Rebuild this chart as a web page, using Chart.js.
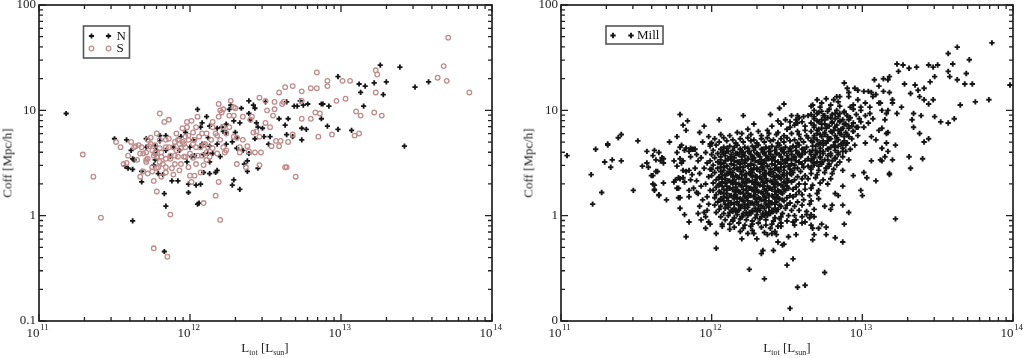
<!DOCTYPE html>
<html>
<head>
<meta charset="utf-8">
<script src="https://cdn.jsdelivr.net/npm/chart.js@4.4.0/dist/chart.umd.min.js"></script>
<style>
body { margin: 0; background: #fff; }
#wrap { position: relative; width: 1025px; height: 358px; overflow: hidden; }
canvas { position: absolute; top: 0; }
.title { position: absolute; font-family: "Liberation Serif", serif; font-size: 13px; color: #222; white-space: nowrap; line-height: 15px; }
.title .sb { font-size: 8px; position: relative; top: 3px; }
.ytitle { transform: translate(-50%, -50%) rotate(-90deg); }
.xtitle { transform: translateX(-50%); }
</style>
</head>
<body>
<div id="wrap">
  <canvas id="left" width="512" height="358" style="left:0"></canvas>
  <canvas id="right" width="513" height="358" style="left:512px"></canvas>
  <div class="title ytitle" style="left:7px;top:163px">Coff [Mpc/h]</div>
  <div class="title xtitle" style="left:265px;top:340px">L<span class="sb">tot</span> [L<span class="sb">sun</span>]</div>
  <div class="title ytitle" style="left:528px;top:163px">Coff [Mpc/h]</div>
  <div class="title xtitle" style="left:787px;top:340px">L<span class="sb">tot</span> [L<span class="sb">sun</span>]</div>
</div>
<script>
// axis ranges and tick labels
const xTicks = [1e11, 1e12, 1e13, 1e14];
const xTickExp = ['11', '12', '13', '14'];
const yTicks = [0.1, 1, 10, 100];
const yTickLabelsLeft = ['0.1', '1', '10', '100'];
const yTickLabelsRight = ['0', '1', '10', '100'];
const minorSteps = [2, 3, 4, 5, 6, 7, 8, 9];

// points are [log10 Ltot, log10 Coff]
const nPoints = [[11.18,0.97],[11.50,0.73],[11.58,0.72],[11.61,0.62],[11.62,0.54],[11.63,0.53],[11.57,0.47],[11.59,0.45],[11.62,0.44],[11.68,0.42],[11.68,0.32],[11.62,-0.05],[11.71,0.73],[11.71,0.65],[11.77,0.66],[11.78,0.62],[11.77,0.58],[11.80,0.76],[11.84,0.76],[11.80,0.71],[11.76,0.48],[11.79,0.40],[11.82,0.39],[11.83,0.21],[11.84,0.09],[11.83,-0.34],[11.88,0.33],[11.92,0.33],[11.99,0.30],[11.99,0.22],[12.04,0.29],[12.07,0.30],[12.06,0.12],[12.05,0.11],[12.05,1.01],[12.11,0.94],[12.08,0.88],[11.98,0.51],[12.01,0.56],[12.03,0.57],[12.07,0.65],[12.08,0.68],[12.12,0.59],[12.13,0.51],[12.17,0.41],[12.20,0.56],[12.22,0.80],[12.21,0.84],[12.26,1.01],[12.27,1.05],[12.24,0.68],[12.28,0.70],[12.28,0.29],[12.29,0.34],[12.33,0.25],[12.30,0.79],[12.31,0.74],[12.35,0.62],[12.38,0.52],[12.38,0.42],[12.39,0.97],[12.40,0.91],[12.42,1.05],[12.43,1.02],[12.39,1.09],[12.48,0.83],[12.49,0.75],[12.53,0.75],[12.63,0.86],[12.65,0.92],[12.59,0.92],[12.64,0.77],[12.68,0.75],[12.74,0.72],[12.74,0.83],[12.77,0.82],[12.69,1.04],[12.71,1.04],[12.75,1.05],[12.78,1.06],[12.87,1.06],[12.88,1.06],[12.92,1.04],[12.87,0.92],[12.91,0.85],[12.98,1.32],[12.98,0.82],[13.07,0.81],[13.13,1.17],[13.15,1.04],[13.12,1.25],[13.16,1.23],[13.22,1.26],[13.26,1.43],[13.28,1.15],[13.30,1.27],[13.39,1.41],[13.42,0.66],[13.49,1.22],[13.58,1.27],[12.64,1.08],[12.73,1.09],[12.43,0.73],[12.52,0.68],[12.45,0.84],[12.44,0.88],[12.50,1.08],[12.45,0.45],[12.34,1.02],[12.33,0.88],[12.31,0.64],[12.18,0.83],[12.15,0.59],[12.13,0.40],[12.09,0.41],[12.09,0.58],[12.13,0.66],[12.12,0.74],[12.07,0.84],[12.13,0.85],[11.94,0.75],[11.97,0.79],[11.93,0.62],[11.89,0.65],[11.87,0.56],[11.77,0.53],[11.84,0.62],[12.02,0.72],[12.00,0.65],[12.36,0.49],[12.39,0.59],[12.29,0.90],[12.18,0.43],[12.24,0.79],[12.24,0.87],[12.18,0.68]];

const sPoints = [[11.29,0.58],[11.36,0.37],[11.41,-0.02],[11.51,0.70],[11.54,0.65],[11.56,0.49],[11.58,0.50],[11.59,0.57],[11.63,0.65],[11.64,0.66],[11.66,0.67],[11.67,0.59],[11.67,0.37],[11.69,0.42],[11.71,0.51],[11.71,0.53],[11.72,0.54],[11.73,0.66],[11.74,0.74],[11.74,0.68],[11.75,0.62],[11.76,0.57],[11.76,0.33],[11.76,-0.31],[11.78,0.23],[11.78,0.78],[11.80,0.97],[11.80,0.72],[11.80,0.64],[11.81,0.56],[11.81,0.37],[11.82,0.49],[11.83,0.89],[11.84,0.72],[11.84,0.54],[11.84,0.41],[11.85,-0.39],[11.86,0.91],[11.86,0.65],[11.86,0.73],[11.87,0.01],[11.87,0.57],[11.88,0.45],[11.89,0.65],[11.90,0.70],[11.91,0.62],[11.93,0.68],[11.93,0.43],[11.93,0.72],[11.95,0.83],[11.95,0.70],[11.97,0.75],[11.97,0.65],[11.98,0.89],[11.99,0.76],[11.99,0.72],[11.99,0.46],[12.00,0.38],[12.01,0.90],[12.02,0.68],[12.02,0.79],[12.03,0.72],[12.04,0.49],[12.04,0.84],[12.05,0.94],[12.06,0.75],[12.07,0.65],[12.08,0.57],[12.09,0.12],[12.10,0.68],[12.11,0.78],[12.11,0.60],[12.11,0.53],[12.12,0.65],[12.14,0.72],[12.15,0.84],[12.15,0.89],[12.17,0.19],[12.18,0.59],[12.18,0.76],[12.19,0.94],[12.19,1.06],[12.19,0.32],[12.20,-0.04],[12.20,0.72],[12.21,0.98],[12.22,0.65],[12.22,0.84],[12.24,0.62],[12.24,0.78],[12.26,0.84],[12.27,1.09],[12.29,1.03],[12.29,0.95],[12.30,1.02],[12.31,0.49],[12.31,0.74],[12.33,0.65],[12.33,0.60],[12.35,0.94],[12.35,0.72],[12.37,0.46],[12.38,0.66],[12.39,0.61],[12.40,0.91],[12.41,0.94],[12.42,0.79],[12.43,0.60],[12.44,0.80],[12.46,1.12],[12.46,0.75],[12.46,0.48],[12.47,0.60],[12.50,0.88],[12.50,1.09],[12.51,1.00],[12.53,0.84],[12.54,0.66],[12.55,0.95],[12.56,1.01],[12.56,1.08],[12.57,0.71],[12.59,0.66],[12.59,1.17],[12.60,0.71],[12.61,1.06],[12.62,1.08],[12.63,0.46],[12.64,0.46],[12.65,0.70],[12.63,1.22],[12.68,1.23],[12.68,0.77],[12.70,0.37],[12.74,1.18],[12.74,1.09],[12.74,0.92],[12.80,0.92],[12.80,1.21],[12.84,1.36],[12.84,1.21],[12.85,0.75],[12.83,0.98],[12.86,0.97],[12.91,1.28],[12.91,1.23],[12.94,0.77],[12.97,1.09],[13.01,1.28],[13.03,1.11],[13.06,1.28],[13.10,0.99],[13.09,0.76],[13.12,0.78],[13.13,0.95],[13.22,0.98],[13.23,1.38],[13.23,1.17],[13.27,0.95],[13.24,1.34],[13.68,1.42],[13.64,1.31],[13.70,1.28],[13.71,1.69],[13.85,1.17],[11.61,0.70],[11.65,0.53],[11.68,0.65],[11.69,0.59],[11.71,0.60],[11.72,0.72],[11.75,0.46],[11.77,0.60],[11.78,0.56],[11.79,0.46],[11.80,0.51],[11.84,0.65],[11.87,0.54],[11.90,0.57],[11.91,0.78],[11.92,0.72],[11.94,0.64],[11.96,0.68],[11.97,0.56],[11.98,0.84],[12.00,0.59],[12.02,0.55],[12.04,0.65],[12.05,0.57],[12.08,0.78],[12.09,0.67],[12.13,0.56],[12.15,0.64],[12.17,0.78],[12.20,1.00],[12.22,1.01],[12.23,0.60],[12.26,0.95],[12.29,0.75],[12.09,0.48],[12.07,0.41],[12.03,0.38],[12.01,0.32],[11.96,0.56],[11.94,0.49],[11.90,0.49],[11.92,0.56],[11.84,0.46],[11.89,0.39],[11.75,0.42],[11.72,0.40],[11.78,0.45],[11.81,0.60],[11.77,0.67]];

const millPoints = [
[11.04,0.57],[11.20,0.39],[11.21,0.11],[11.23,0.63],[11.27,0.22],[11.29,0.51],[11.31,0.68],[11.31,0.67],[11.33,0.46],[11.34,0.53],[11.38,0.74],[11.40,0.77],[11.40,0.52],[11.48,0.24],[11.51,0.71],[11.54,0.47],[11.57,0.61],[11.57,0.50],[11.60,0.38],[11.61,0.30],[11.62,0.24],[11.62,0.62],[11.63,0.53],[11.64,0.42],[11.65,0.20],[11.68,0.54],[11.68,0.50],[11.68,0.31],[11.70,0.15],[11.72,0.70],[11.75,0.32],[11.77,0.75],[11.77,0.60],[11.78,0.36],[11.78,0.26],[11.78,0.17],[11.79,0.07],[11.79,0.96],[11.79,0.54],[11.80,0.50],[11.81,0.86],[11.82,0.01],[11.83,-0.20],[11.84,0.90],[11.85,-0.06],[11.85,0.43],[11.86,0.56],[11.87,0.63],[11.83,0.81],[11.65,0.60],[11.67,0.55],[11.66,0.52],[11.61,0.57],[11.58,0.46],[11.63,0.42],[11.61,0.38],[11.62,0.29],[11.62,0.25],[11.65,0.19],[11.75,0.52],[11.79,0.65],[11.80,0.67],[11.82,0.62],[11.83,0.64],[11.85,0.61],[11.86,0.64],[11.89,0.63],[11.81,0.52],[11.77,0.47],[11.81,0.43],[11.83,0.42],[11.87,0.39],[11.86,0.34],[11.82,0.32],[11.79,0.35],[11.81,0.36],[11.77,0.26],[11.85,0.24],[11.88,0.26],[11.90,0.22],[11.85,0.18],[11.79,0.17],[11.76,0.34],
[11.88,0.63],[11.90,0.58],[11.91,0.52],[11.89,0.45],[11.92,0.40],[11.90,0.33],[11.93,0.28],[11.91,0.21],[11.94,0.15],[11.92,0.09],[11.95,0.03],[11.93,-0.04],[11.96,0.60],[11.97,0.50],[11.95,0.45],[11.98,0.37],[11.96,0.30],[11.99,0.24],[11.97,0.18],[11.98,0.11],[11.99,0.68],[11.94,0.70],[11.98,0.75],[11.95,0.85],[11.92,0.79],[11.99,-0.08],[11.96,-0.12],[11.93,0.55],[11.99,0.44],[11.97,0.05],[11.91,0.02],[11.96,-0.01],[11.98,-0.06],[12.03,-0.17],[12.03,-0.31],
[12.05,0.91],[12.06,0.77],[12.17,0.79],[12.21,0.95],[12.28,0.87],[12.24,0.82],[12.39,0.96],[12.45,1.02],[12.48,1.06],[12.57,0.95],[12.52,0.89],[12.56,0.88],[12.53,0.95],[12.56,0.91],[12.60,0.89],[12.55,0.86],[12.61,0.94],[12.40,0.85],[12.46,0.87],[12.52,0.84],[12.57,0.88],[12.62,0.85],[12.49,0.91],[12.58,0.93],[12.44,0.90],
[12.31,0.80],[12.37,0.81],[12.44,0.79],[12.50,0.82],[12.57,0.80],[12.62,0.81],
[12.12,0.76],[12.20,0.78],[12.26,0.77],[12.33,0.76],[12.38,0.78],[12.43,0.77],[12.48,0.76],[12.53,0.78],[12.58,0.77],[12.63,0.76],
[12.02,0.73],[12.08,0.74],[12.14,0.72],[12.19,0.73],[12.24,0.74],[12.28,0.72],[12.33,0.73],[12.37,0.74],[12.41,0.72],[12.46,0.73],[12.50,0.74],[12.55,0.72],[12.59,0.73],[12.64,0.74],
[12.00,0.69],[12.05,0.70],[12.10,0.71],[12.16,0.69],[12.21,0.70],[12.26,0.71],[12.30,0.69],[12.35,0.70],[12.39,0.71],[12.44,0.69],[12.48,0.70],[12.52,0.71],[12.57,0.69],[12.61,0.70],[12.66,0.71],
[11.99,0.66],[12.03,0.67],[12.08,0.65],[12.12,0.66],[12.17,0.67],[12.22,0.65],[12.27,0.66],[12.31,0.67],[12.36,0.65],[12.40,0.66],[12.45,0.67],[12.49,0.65],[12.54,0.66],[12.58,0.67],[12.63,0.65],[12.67,0.66],
[12.01,0.62],[12.06,0.63],[12.10,0.61],[12.14,0.62],[12.19,0.63],[12.24,0.61],[12.28,0.62],[12.33,0.63],[12.38,0.61],[12.42,0.62],[12.46,0.63],[12.51,0.61],[12.56,0.62],[12.60,0.63],[12.65,0.61],[12.69,0.62],
[12.00,0.58],[12.04,0.59],[12.08,0.60],[12.13,0.58],[12.17,0.59],[12.21,0.60],[12.26,0.58],[12.30,0.59],[12.35,0.60],[12.39,0.58],[12.43,0.59],[12.48,0.60],[12.53,0.58],[12.57,0.59],[12.62,0.60],[12.66,0.58],
[12.02,0.55],[12.06,0.56],[12.11,0.54],[12.15,0.55],[12.20,0.56],[12.24,0.54],[12.28,0.55],[12.32,0.56],[12.37,0.54],[12.41,0.55],[12.46,0.56],[12.50,0.54],[12.55,0.55],[12.59,0.56],[12.64,0.54],[12.68,0.55],
[11.99,0.52],[12.04,0.51],[12.09,0.52],[12.13,0.53],[12.18,0.51],[12.22,0.52],[12.27,0.53],[12.31,0.51],[12.35,0.52],[12.40,0.53],[12.44,0.51],[12.49,0.52],[12.53,0.53],[12.58,0.51],[12.62,0.52],
[12.01,0.48],[12.06,0.49],[12.10,0.47],[12.15,0.48],[12.19,0.49],[12.24,0.47],[12.28,0.48],[12.33,0.49],[12.37,0.47],[12.42,0.48],[12.46,0.49],[12.51,0.47],[12.55,0.48],[12.60,0.49],[12.64,0.47],
[12.00,0.44],[12.04,0.45],[12.08,0.46],[12.12,0.44],[12.17,0.45],[12.21,0.46],[12.26,0.44],[12.30,0.45],[12.34,0.46],[12.39,0.44],[12.43,0.45],[12.48,0.46],[12.52,0.44],[12.57,0.45],[12.61,0.46],
[12.02,0.41],[12.06,0.42],[12.10,0.40],[12.14,0.41],[12.19,0.42],[12.23,0.40],[12.27,0.41],[12.32,0.42],[12.36,0.40],[12.41,0.41],[12.45,0.42],[12.50,0.40],[12.54,0.41],[12.59,0.42],
[12.00,0.38],[12.05,0.37],[12.09,0.38],[12.13,0.39],[12.17,0.37],[12.22,0.38],[12.26,0.39],[12.30,0.37],[12.35,0.38],[12.39,0.39],[12.44,0.37],[12.48,0.38],[12.53,0.39],[12.57,0.37],[12.62,0.38],
[12.03,0.34],[12.07,0.35],[12.11,0.33],[12.15,0.34],[12.20,0.35],[12.24,0.33],[12.29,0.34],[12.33,0.35],[12.37,0.33],[12.42,0.34],[12.46,0.35],[12.51,0.33],[12.55,0.34],[12.60,0.35],
[12.01,0.31],[12.05,0.30],[12.09,0.31],[12.14,0.32],[12.18,0.30],[12.22,0.31],[12.27,0.32],[12.31,0.30],[12.35,0.31],[12.40,0.32],[12.44,0.30],[12.49,0.31],[12.53,0.32],[12.58,0.30],
[12.03,0.27],[12.07,0.28],[12.12,0.26],[12.16,0.27],[12.20,0.28],[12.25,0.26],[12.29,0.27],[12.34,0.28],[12.38,0.26],[12.42,0.27],[12.47,0.28],[12.51,0.26],[12.56,0.27],
[12.01,0.24],[12.05,0.23],[12.10,0.24],[12.14,0.25],[12.18,0.23],[12.23,0.24],[12.27,0.25],[12.31,0.23],[12.36,0.24],[12.40,0.25],[12.45,0.23],[12.49,0.24],[12.54,0.25],[12.58,0.23],
[12.03,0.20],[12.08,0.21],[12.12,0.19],[12.16,0.20],[12.21,0.21],[12.25,0.19],[12.29,0.20],[12.34,0.21],[12.38,0.19],[12.43,0.20],[12.47,0.21],[12.52,0.19],[12.56,0.20],
[12.02,0.17],[12.06,0.16],[12.10,0.17],[12.15,0.18],[12.19,0.16],[12.23,0.17],[12.28,0.18],[12.32,0.16],[12.36,0.17],[12.41,0.18],[12.45,0.16],[12.50,0.17],[12.54,0.18],
[12.04,0.13],[12.08,0.14],[12.13,0.12],[12.17,0.13],[12.21,0.14],[12.26,0.12],[12.30,0.13],[12.35,0.14],[12.39,0.12],[12.43,0.13],[12.48,0.14],[12.52,0.12],[12.57,0.13],
[12.02,0.10],[12.06,0.09],[12.11,0.10],[12.15,0.11],[12.19,0.09],[12.24,0.10],[12.28,0.11],[12.33,0.09],[12.37,0.10],[12.42,0.11],[12.46,0.09],[12.50,0.10],
[12.05,0.06],[12.09,0.07],[12.13,0.05],[12.18,0.06],[12.22,0.07],[12.27,0.05],[12.31,0.06],[12.35,0.07],[12.40,0.05],[12.44,0.06],[12.49,0.07],[12.53,0.05],
[12.03,0.03],[12.08,0.02],[12.12,0.03],[12.16,0.04],[12.21,0.02],[12.25,0.03],[12.30,0.04],[12.34,0.02],[12.38,0.03],[12.43,0.04],[12.47,0.02],
[12.06,-0.01],[12.11,0.00],[12.15,-0.02],[12.20,-0.01],[12.24,0.00],[12.29,-0.02],[12.33,-0.01],[12.37,0.00],[12.42,-0.02],[12.46,-0.01],[12.51,0.00],
[12.09,-0.04],[12.14,-0.05],[12.19,-0.03],[12.23,-0.04],[12.27,-0.05],[12.32,-0.03],[12.36,-0.04],[12.41,-0.05],[12.45,-0.03],
[12.12,-0.08],[12.18,-0.07],[12.22,-0.09],[12.27,-0.08],[12.31,-0.07],[12.36,-0.09],[12.40,-0.08],[12.46,-0.07],
[12.15,-0.11],[12.21,-0.12],[12.26,-0.10],[12.33,-0.11],[12.39,-0.12],[12.44,-0.10],
[12.19,-0.15],[12.27,-0.14],[12.35,-0.16],[12.42,-0.15],
[12.10,0.64],[12.15,0.65],[12.19,0.63],[12.24,0.64],[12.29,0.65],[12.34,0.63],[12.38,0.64],[12.43,0.65],[12.47,0.63],[12.52,0.64],[12.56,0.65],[12.61,0.63],
[12.07,0.60],[12.11,0.61],[12.16,0.59],[12.20,0.60],[12.25,0.61],[12.30,0.59],[12.34,0.60],[12.39,0.61],[12.43,0.59],[12.48,0.60],[12.53,0.61],[12.58,0.59],
[12.09,0.57],[12.13,0.56],[12.18,0.58],[12.22,0.57],[12.27,0.56],[12.31,0.58],[12.36,0.57],[12.41,0.56],[12.45,0.58],[12.50,0.57],[12.55,0.56],[12.60,0.58],
[12.06,0.53],[12.11,0.54],[12.15,0.52],[12.20,0.53],[12.24,0.54],[12.29,0.52],[12.33,0.53],[12.38,0.54],[12.42,0.52],[12.47,0.53],[12.51,0.54],[12.56,0.52],
[12.08,0.50],[12.13,0.49],[12.17,0.51],[12.22,0.50],[12.26,0.49],[12.31,0.51],[12.35,0.50],[12.40,0.49],[12.44,0.51],[12.49,0.50],[12.53,0.49],[12.58,0.51],
[12.06,0.46],[12.10,0.47],[12.15,0.45],[12.19,0.46],[12.24,0.47],[12.28,0.45],[12.33,0.46],[12.37,0.47],[12.42,0.45],[12.46,0.46],[12.51,0.47],[12.55,0.45],
[12.08,0.43],[12.12,0.42],[12.17,0.44],[12.21,0.43],[12.26,0.42],[12.30,0.44],[12.35,0.43],[12.39,0.42],[12.44,0.44],[12.48,0.43],[12.53,0.42],
[12.07,0.39],[12.11,0.40],[12.16,0.38],[12.20,0.39],[12.25,0.40],[12.29,0.38],[12.34,0.39],[12.38,0.40],[12.43,0.38],[12.47,0.39],[12.52,0.40],
[12.05,0.36],[12.09,0.35],[12.14,0.37],[12.18,0.36],[12.23,0.35],[12.27,0.37],[12.32,0.36],[12.36,0.35],[12.41,0.37],[12.45,0.36],[12.50,0.35],
[12.07,0.32],[12.12,0.33],[12.16,0.31],[12.21,0.32],[12.25,0.33],[12.30,0.31],[12.34,0.32],[12.39,0.33],[12.43,0.31],[12.48,0.32],
[12.05,0.29],[12.10,0.28],[12.14,0.30],[12.19,0.29],[12.23,0.28],[12.28,0.30],[12.32,0.29],[12.37,0.28],[12.41,0.30],[12.46,0.29],[12.50,0.28],
[12.08,0.25],[12.12,0.26],[12.17,0.24],[12.21,0.25],[12.26,0.26],[12.30,0.24],[12.35,0.25],[12.39,0.26],[12.44,0.24],[12.48,0.25],
[12.06,0.22],[12.10,0.21],[12.15,0.23],[12.19,0.22],[12.24,0.21],[12.28,0.23],[12.33,0.22],[12.37,0.21],[12.42,0.23],[12.46,0.22],
[12.08,0.18],[12.13,0.19],[12.17,0.17],[12.22,0.18],[12.26,0.19],[12.31,0.17],[12.35,0.18],[12.40,0.19],[12.44,0.17],
[12.06,0.15],[12.11,0.14],[12.15,0.16],[12.20,0.15],[12.24,0.14],[12.29,0.16],[12.33,0.15],[12.38,0.14],[12.42,0.16],[12.47,0.15],
[12.09,0.11],[12.13,0.12],[12.18,0.10],[12.22,0.11],[12.27,0.12],[12.31,0.10],[12.36,0.11],[12.40,0.12],[12.45,0.10],
[12.11,0.08],[12.15,0.07],[12.20,0.09],[12.24,0.08],[12.29,0.07],[12.33,0.09],[12.38,0.08],[12.42,0.07],
[12.14,0.04],[12.18,0.05],[12.23,0.03],[12.27,0.04],[12.32,0.05],[12.36,0.03],[12.41,0.04],
[12.17,0.01],[12.21,0.00],[12.26,0.02],[12.30,0.01],[12.35,0.00],[12.39,0.02],
[12.66,1.04],[12.72,1.03],[12.79,1.05],[12.85,1.04],[12.92,1.03],
[12.68,1.00],[12.73,0.99],[12.78,1.01],[12.83,1.00],[12.88,0.99],[12.94,1.01],[12.99,1.00],
[12.66,0.96],[12.70,0.97],[12.75,0.95],[12.80,0.96],[12.85,0.97],[12.90,0.95],[12.96,0.96],
[12.68,0.92],[12.73,0.91],[12.77,0.93],[12.82,0.92],[12.87,0.91],[12.92,0.93],[12.98,0.92],
[12.66,0.88],[12.71,0.89],[12.75,0.87],[12.80,0.88],[12.85,0.89],[12.89,0.87],[12.94,0.88],[12.99,0.89],
[12.68,0.84],[12.73,0.83],[12.77,0.85],[12.82,0.84],[12.87,0.83],[12.91,0.85],[12.96,0.84],
[12.66,0.80],[12.70,0.81],[12.75,0.79],[12.79,0.80],[12.84,0.81],[12.89,0.79],[12.94,0.80],
[12.68,0.76],[12.72,0.77],[12.77,0.75],[12.82,0.76],[12.86,0.77],[12.91,0.75],[12.97,0.76],
[12.70,0.72],[12.74,0.71],[12.79,0.73],[12.84,0.72],[12.88,0.71],[12.93,0.73],
[12.71,0.68],[12.76,0.69],[12.81,0.67],[12.86,0.68],[12.90,0.69],[12.95,0.67],
[12.72,0.64],[12.77,0.63],[12.82,0.65],[12.87,0.64],[12.92,0.63],
[12.70,0.60],[12.74,0.61],[12.79,0.59],[12.84,0.60],[12.89,0.61],
[12.72,0.56],[12.77,0.57],[12.82,0.55],[12.87,0.56],
[12.66,0.52],[12.70,0.51],[12.75,0.53],[12.80,0.52],[12.85,0.51],[12.91,0.53],
[12.68,0.48],[12.73,0.49],[12.78,0.47],[12.83,0.48],
[12.66,0.44],[12.71,0.43],[12.76,0.45],[12.81,0.44],[12.87,0.43],
[12.66,0.40],[12.70,0.39],[12.75,0.41],[12.80,0.40],
[12.64,0.35],[12.69,0.36],[12.74,0.34],[12.79,0.35],
[12.62,0.30],[12.67,0.29],[12.72,0.31],[12.77,0.30],
[12.62,0.25],[12.66,0.26],[12.71,0.24],
[12.60,0.20],[12.65,0.19],[12.70,0.21],
[12.61,0.15],[12.66,0.14],[12.71,0.16],
[12.55,0.09],[12.60,0.10],[12.65,0.11],
[12.58,0.05],[12.63,0.04],[12.68,0.06],
[12.55,0.00],[12.60,-0.01],[12.66,0.01],
[12.50,-0.05],[12.56,-0.04],[12.62,-0.06],
[12.71,0.98],[12.77,0.99],[12.82,0.97],[12.88,0.98],
[12.68,0.94],[12.74,0.95],[12.79,0.93],[12.84,0.94],[12.90,0.95],
[12.70,0.90],[12.75,0.91],[12.80,0.89],[12.85,0.90],[12.91,0.91],
[12.68,0.86],[12.73,0.87],[12.78,0.85],[12.83,0.86],[12.88,0.87],[12.93,0.85],
[12.71,0.82],[12.76,0.83],[12.81,0.81],[12.86,0.82],[12.91,0.83],
[12.70,0.78],[12.75,0.77],[12.80,0.79],[12.85,0.78],[12.90,0.77],
[12.68,0.74],[12.73,0.75],[12.78,0.73],[12.83,0.74],[12.88,0.75],
[12.67,0.70],[12.72,0.69],[12.77,0.71],[12.82,0.70],[12.87,0.69],
[12.69,0.66],[12.74,0.67],[12.79,0.65],[12.84,0.66],[12.89,0.67],
[12.67,0.62],[12.72,0.61],[12.77,0.63],[12.82,0.62],[12.87,0.61],
[12.69,0.58],[12.74,0.59],[12.79,0.57],[12.84,0.58],
[12.67,0.54],[12.72,0.55],[12.77,0.53],[12.82,0.54],
[12.68,0.50],[12.73,0.51],[12.78,0.49],
[12.66,0.46],[12.71,0.47],[12.76,0.45],
[12.88,1.26],[12.85,1.13],[12.90,1.21],[12.91,1.13],[12.95,1.21],[12.97,1.19],[13.01,1.18],[12.97,1.10],[13.04,1.18],[13.07,1.13],[13.02,1.07],[13.05,1.03],[12.99,1.03],[12.94,1.05],[12.84,1.08],[12.81,1.10],[12.76,1.11],[12.73,1.07],[12.70,1.10],[12.67,1.05],[12.64,0.95],[13.05,0.97],[13.07,0.92],[13.04,0.88],[13.01,0.84],[12.97,0.84],[12.94,0.80],[13.02,0.69],[13.06,0.75],[13.11,0.81],[13.09,0.72],[13.13,0.83],[13.15,0.91],[13.13,1.00],[13.12,1.07],[13.17,1.00],[13.20,1.10],[13.23,0.97],[12.83,1.13],[12.91,1.17],[13.06,1.17],[13.09,1.15],[13.14,1.18],[13.18,1.17],[13.11,1.07],[13.20,1.07],[13.16,0.97],[13.17,0.79],[13.02,0.95],
[13.86,1.64],[13.63,1.60],[13.57,1.54],[13.71,1.48],[13.60,1.44],[13.50,1.43],[13.44,1.43],[13.47,1.41],[13.36,1.41],[13.31,1.40],[13.23,1.44],[13.27,1.43],[13.24,1.37],[13.18,1.32],[13.17,1.29],[13.14,1.30],[13.08,1.29],[13.11,1.23],[13.58,1.32],[13.57,1.37],[13.63,1.29],[13.69,1.35],[13.68,1.25],[13.73,1.25],[13.98,1.24],[13.75,1.08],[13.84,1.10],[13.65,1.05],[13.61,0.92],[13.57,0.88],[13.52,0.89],[13.48,0.94],[13.47,1.10],[13.41,1.10],[13.44,1.06],[13.38,1.13],[13.35,1.24],[13.37,1.19],[13.41,1.21],[13.45,1.27],[13.48,1.32],[13.28,1.25],[13.32,1.16],[13.26,1.03],[13.34,0.97],[13.39,0.95],[13.33,0.91],[13.38,0.78],[13.41,0.70],[13.40,0.54],[13.44,0.73],[13.34,0.84],[13.31,0.56],[13.32,0.45],[13.22,0.67],[13.20,0.53],[13.17,0.61],[13.15,0.56],[13.18,0.39],[13.12,0.53],[13.13,0.64],[13.16,0.78],[13.22,-0.03],[13.16,0.69],[13.13,0.52],[13.18,0.40],[13.06,0.52],[13.01,0.41],[13.03,0.36],[12.94,0.38],[13.09,0.33],[12.87,0.28],[12.99,0.24],[13.00,0.19],[12.82,0.21],[12.84,0.19],[12.91,0.03],[12.87,0.10],[12.88,-0.08],[12.87,-0.25],[12.82,-0.21],[12.76,-0.18],[12.67,-0.23],[12.68,-0.18],[12.67,-0.12],[12.71,-0.12],[12.76,-0.11],[12.73,-0.08],[12.66,-0.09],[12.80,0.10],[12.79,0.06],[12.75,0.09],[12.68,-0.01],[12.63,0.01],[12.65,-0.02],[12.60,-0.07],[12.75,-0.54],[12.62,-0.66],[12.57,-0.68],[12.52,-0.88],[12.50,-0.47],[12.54,-0.41],[12.47,-0.28],[12.44,-0.25],[12.41,-0.33],[12.35,-0.60],[12.33,-0.36],[12.34,-0.33],[12.25,-0.51],[12.30,-0.22],[12.20,-0.22],[12.07,-0.10],[12.07,-0.08],[12.12,-0.13],[12.14,-0.04],[12.24,-0.17],[12.28,-0.17],[12.37,-0.18],[12.40,-0.17],[12.43,-0.18],[12.46,-0.10],[12.51,-0.20],[12.56,-0.18],[12.55,-0.09],[12.54,-0.06],[12.48,-0.27]
];

const toXY = pts => pts.map(([lx, ly]) => ({ x: Math.pow(10, lx), y: Math.pow(10, ly) }));

function drawMark(ctx, style, color, x, y) {
  ctx.strokeStyle = color;
  ctx.lineWidth = style.w;
  ctx.beginPath();
  if (style.kind === 'cross') {
    ctx.moveTo(x - style.r, y); ctx.lineTo(x + style.r, y);
    ctx.moveTo(x, y - style.r); ctx.lineTo(x, y + style.r);
  } else {
    ctx.arc(x, y, style.r, 0, Math.PI * 2);
  }
  ctx.stroke();
}

// frame, inward ticks, tick labels and legend box
const axesFrame = {
  id: 'axesFrame',
  afterDatasetsDraw(chart, args, opts) {
    const { ctx, chartArea: a } = chart;
    const xs = chart.scales.x, ys = chart.scales.y;
    const minorOf = t => t.slice(0, -1).flatMap(v => minorSteps.map(m => v * m));
    ctx.save();
    ctx.strokeStyle = '#222';
    ctx.lineWidth = 1.3;
    const tick = (vals, len) => {
      vals.forEach(v => {
        const px = xs.getPixelForValue(v);
        ctx.beginPath();
        ctx.moveTo(px, a.bottom); ctx.lineTo(px, a.bottom - len);
        ctx.moveTo(px, a.top); ctx.lineTo(px, a.top + len);
        ctx.stroke();
      });
    };
    const ytick = (vals, len) => {
      vals.forEach(v => {
        const py = ys.getPixelForValue(v);
        ctx.beginPath();
        ctx.moveTo(a.left, py); ctx.lineTo(a.left + len, py);
        ctx.moveTo(a.right, py); ctx.lineTo(a.right - len, py);
        ctx.stroke();
      });
    };
    tick(xTicks, 7); tick(minorOf(xTicks), 4);
    ytick(yTicks, 7); ytick(minorOf(yTicks), 4);

    ctx.lineWidth = 1.7;
    ctx.strokeRect(a.left, a.top, a.right - a.left, a.bottom - a.top);

    ctx.fillStyle = '#222';
    ctx.font = '13px "Liberation Serif"';
    ctx.textAlign = 'right';
    ctx.textBaseline = 'middle';
    yTicks.forEach((v, i) => ctx.fillText(opts.yLabels[i], a.left - 3, ys.getPixelForValue(v)));

    ctx.textBaseline = 'alphabetic';
    xTicks.forEach((v, i) => {
      const px = xs.getPixelForValue(v);
      ctx.font = '13px "Liberation Serif"';
      ctx.textAlign = 'right';
      ctx.fillText('10', px + 0.5, a.bottom + 16);
      ctx.font = '9px "Liberation Serif"';
      ctx.textAlign = 'left';
      ctx.fillText(xTickExp[i], px + 1, a.bottom + 9);
    });

    const lg = opts.legend;
    ctx.strokeStyle = '#555';
    ctx.lineWidth = 1.6;
    ctx.strokeRect(lg.x, lg.y, lg.w, lg.h);
    ctx.font = '13px "Liberation Serif"';
    ctx.textAlign = 'left';
    ctx.textBaseline = 'middle';
    lg.items.forEach((it, i) => {
      const yy = lg.y + lg.row0 + i * lg.rowH;
      drawMark(ctx, it.style, it.color, lg.x + lg.s1, yy);
      drawMark(ctx, it.style, it.color, lg.x + lg.s2, yy);
      ctx.fillStyle = '#111';
      ctx.fillText(it.label, lg.x + lg.tx, yy + 0.5);
    });
    ctx.restore();
  }
};

const nStyle = { kind: 'cross', r: 2.6, w: 1.8 };
const sStyle = { kind: 'circle', r: 2.3, w: 1.3 };
const mStyle = { kind: 'cross', r: 2.7, w: 1.9 };
const nColor = '#151515';
const sColor = '#c08c8c';
const mColor = '#151515';

function scatterSet(label, pts, style, color) {
  return {
    label,
    data: toXY(pts),
    pointStyle: style.kind === 'cross' ? 'cross' : 'circle',
    pointRadius: style.r,
    pointBorderWidth: style.w,
    borderColor: color,
    backgroundColor: 'rgba(0,0,0,0)',
    pointBackgroundColor: 'rgba(0,0,0,0)'
  };
}

function makePanel(id, datasets, pad, yLabels, legend) {
  return new Chart(document.getElementById(id), {
    type: 'scatter',
    data: { datasets },
    options: {
      responsive: false,
      animation: false,
      events: [],
      layout: { padding: pad, autoPadding: false },
      plugins: {
        legend: { display: false },
        tooltip: { enabled: false },
        axesFrame: { yLabels, legend }
      },
      scales: {
        x: { type: 'logarithmic', min: xTicks[0], max: xTicks[xTicks.length - 1], display: false },
        y: { type: 'logarithmic', min: yTicks[0], max: yTicks[yTicks.length - 1], display: false }
      }
    },
    plugins: [axesFrame]
  });
}

makePanel('left',
  [scatterSet('S', sPoints, sStyle, sColor), scatterSet('N', nPoints, nStyle, nColor)],
  { left: 39, right: 20, top: 5, bottom: 37 },
  yTickLabelsLeft,
  { x: 83.5, y: 26, w: 46, h: 32, row0: 10, rowH: 12.5, s1: 8, s2: 25, tx: 33,
    items: [{ label: 'N', style: nStyle, color: nColor }, { label: 'S', style: sStyle, color: sColor }] });

makePanel('right',
  [scatterSet('Mill', millPoints, mStyle, mColor)],
  { left: 49, right: 12, top: 5, bottom: 37 },
  yTickLabelsRight,
  { x: 94, y: 26, w: 57, h: 18, row0: 9.5, rowH: 12, s1: 7, s2: 25, tx: 31,
    items: [{ label: 'Mill', style: mStyle, color: mColor }] });
</script>
</body>
</html>
